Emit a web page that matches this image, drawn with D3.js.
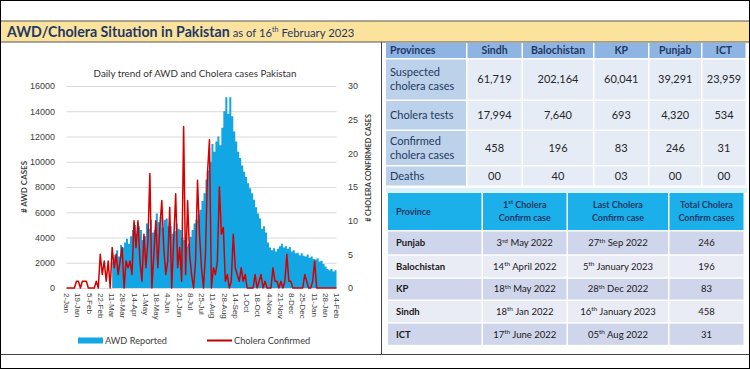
<!DOCTYPE html>
<html>
<head>
<meta charset="utf-8">
<script src="https://cdn.jsdelivr.net/npm/d3@7"></script>
<style>
  body { margin: 0; background: #fff; }
  svg { display: block; font-family: Lato, "Open Sans", sans-serif; }
</style>
</head>
<body>
<svg id="chart" width="750" height="369"></svg>
<script>
// ---- data ----
// daily series sampled every 3 days from 2-Jan-2022
const startDate = new Date(2022, 0, 2);
const stepDays = 3;

const awdReported = [
    0, 0, 0, 0, 0, 0, 0, 0, 0, 0, 0, 0, 0, 0, 0, 0, 0, 0, 0, 0, 0, 0, 0,
    2100, 2600, 3000, 2500, 3400, 3200, 3600, 3900, 3500, 4100, 4600, 5000, 4300, 4900, 4600, 3800,
    4100, 5100, 4700, 5400, 4400, 4600, 5900, 5200, 5650, 4800, 5400, 5500, 4900, 4900, 4300, 4500,
    5100, 4700, 4600, 4000, 3800, 3300, 3500, 4050, 4600, 5100, 5400, 5800, 6200, 6900, 7500, 8600,
    9300, 10000, 11400, 10800, 11600, 12000, 11300, 12700, 14000, 15100, 13800, 15100, 13600, 12400,
    11600, 10800, 10300, 9700, 9200, 8800, 8300, 7900, 7500, 7000, 6400, 5900, 5500, 4700, 4900, 4400,
    3600, 3200, 3000, 3150, 2900, 3100, 3300, 3500, 3200, 3300, 3100, 3250, 2900, 3000, 2750, 2800,
    2600, 2750, 2550, 2500, 2650, 2400, 2500, 2300, 2250, 2350, 2100, 2150, 1900, 1700, 1500, 1400,
    1500, 1300, 1400, 1250
];

const choleraConfirmed = [
    0, 0, 0, 0, 0, 1, 1, 0, 1, 1, 1, 0, 0, 0, 0, 1, 0, 5, 2, 4, 1, 4, 0, 6, 3, 5, 2, 4, 6, 0,
    4, 3, 4, 2, 10, 6, 10, 4, 1, 8, 3, 7, 17, 0, 5, 10, 3, 9, 13, 6, 2, 4, 12, 0, 7, 14, 3, 6, 1, 24,
    2, 13, 5, 2, 0, 4, 16, 8, 3, 0, 5, 17, 22, 0, 3, 2, 4, 15, 8, 9, 1, 2, 0, 1, 8, 3, 2, 1, 3, 1,
    2, 0, 0, 0, 0, 2, 0, 1, 2, 0, 1, 0, 0, 0, 3, 1, 1, 0, 1, 0, 1, 5, 1, 1, 0, 0, 0, 0, 0, 0,
    2, 1, 0, 0, 1, 4, 0, 0, 0, 0, 0, 0, 0, 0, 0, 0, 0
];

const tickLabels = ['2-Jan', '19-Jan', '5-Feb', '22-Feb', '11-Mar', '28-Mar', '14-Apr', '1-May',
    '18-May', '4-Jun', '21-Jun', '8-Jul', '25-Jul', '11-Aug', '28-Aug', '14-Sep', '1-Oct', '18-Oct',
    '4-Nov', '21-Nov', '8-Dec', '25-Dec', '11-Jan', '28-Jan', '14-Feb'];
const tickStepDays = 17;

// table 1
const provinces = ['Sindh', 'Balochistan', 'KP', 'Punjab', 'ICT'];
const suspectedCases = [61719, 202164, 60041, 39291, 23959];
const choleraTests = [17994, 7640, 693, 4320, 534];
const confirmedCases = [458, 196, 83, 246, 31];
const deaths = [0, 40, 3, 0, 0];

// table 2
const caseProvinces = ['Punjab', 'Balochistan', 'KP', 'Sindh', 'ICT'];
const firstCase = ['3rd May 2022', '14th April 2022', '18th May 2022', '18th Jan 2022', '17th June 2022'];
const lastCase = ['27th Sep 2022', '5th January 2023', '28th Dec 2022', '16th January 2023', '05th Aug 2022'];
const totalCases = [246, 196, 83, 458, 31];

// ---- frame ----
const svg = d3.select('#chart');
const navy = '#1f3864';

svg.append('rect').attr('x', 0.5).attr('y', 0.5).attr('width', 749).attr('height', 368)
    .attr('fill', '#fff').attr('stroke', '#000');
svg.append('rect').attr('x', 1).attr('y', 21).attr('width', 748).attr('height', 21).attr('fill', '#fbe39d');
svg.append('line').attr('x1', 1).attr('x2', 749).attr('y1', 21).attr('y2', 21).attr('stroke', '#555');
svg.append('line').attr('x1', 1).attr('x2', 749).attr('y1', 42).attr('y2', 42).attr('stroke', '#555');
svg.append('line').attr('x1', 381.5).attr('x2', 381.5).attr('y1', 42).attr('y2', 354).attr('stroke', '#444');
svg.append('line').attr('x1', 1).attr('x2', 749).attr('y1', 354.5).attr('y2', 354.5).attr('stroke', '#444');

const head = svg.append('text').attr('x', 7).attr('y', 37).attr('fill', navy);
head.append('tspan').attr('font-weight', 'bold').attr('font-size', 14.2).text('AWD/Cholera Situation in Pakistan');
head.append('tspan').attr('font-size', 11.3).text(' as of 16');
head.append('tspan').attr('font-size', 7).attr('dy', -5).text('th');
head.append('tspan').attr('font-size', 11.3).attr('dy', 5).text(' February 2023');

// ---- chart ----
const dates = awdReported.map((d, i) => d3.timeDay.offset(startDate, i * stepDays));
const series = dates.map((d, i) => ({ date: d, awd: awdReported[i], cholera: choleraConfirmed[i] }));
const tickDates = tickLabels.map((d, i) => d3.timeDay.offset(startDate, i * tickStepDays));

const x = d3.scaleTime().domain([startDate, tickDates[tickDates.length - 1]]).range([66.5, 336.5]);
const yL = d3.scaleLinear().domain([0, 16000]).range([288, 86]);
const yR = d3.scaleLinear().domain([0, 30]).range([288, 86]);

svg.append('text').attr('x', 195).attr('y', 77).attr('text-anchor', 'middle')
    .attr('font-size', 9.8).attr('fill', '#333').text('Daily trend of AWD and Cholera cases Pakistan');

// gridlines
svg.append('g').attr('transform', 'translate(66.5,0)')
    .call(d3.axisLeft(yL).tickValues(d3.range(0, 16001, 2000)).tickSize(-270).tickFormat(''))
    .call(g => g.select('.domain').remove())
    .call(g => g.selectAll('line').attr('stroke', '#d9d9d9'));

// AWD area
svg.append('path').datum(series)
    .attr('fill', '#12a6e4')
    .attr('d', d3.area().curve(d3.curveStepAfter).x(d => x(d.date)).y0(yL(0)).y1(d => yL(d.awd)));

// cholera line
svg.append('path').datum(series)
    .attr('fill', 'none').attr('stroke', '#d40000').attr('stroke-width', 1.5).attr('stroke-linejoin', 'round')
    .attr('d', d3.line().x(d => x(d.date)).y(d => yR(d.cholera)));

// axes
svg.append('g').attr('transform', 'translate(58,0)')
    .call(d3.axisLeft(yL).tickValues(d3.range(0, 16001, 2000)).tickSize(0).tickFormat(d3.format('d')))
    .call(g => g.select('.domain').remove())
    .call(g => g.selectAll('text').attr('font-size', 9).attr('fill', '#404040').attr('font-family', null));

svg.append('g').attr('transform', 'translate(345,0)')
    .call(d3.axisRight(yR).tickValues(d3.range(0, 31, 5)).tickSize(0))
    .call(g => g.select('.domain').remove())
    .call(g => g.selectAll('text').attr('font-size', 9).attr('fill', '#404040').attr('font-family', null));

svg.append('g').attr('transform', 'translate(0,292)')
    .call(d3.axisBottom(x).tickValues(tickDates).tickSize(0).tickFormat((d, i) => tickLabels[i]))
    .call(g => g.select('.domain').remove())
    .call(g => g.selectAll('text')
        .attr('font-size', 8).attr('fill', '#404040').attr('font-family', null)
        .attr('text-anchor', 'start').attr('transform', 'rotate(90)')
        .attr('x', 1).attr('y', 0).attr('dy', '0.35em'));

svg.append('text').attr('transform', 'translate(27,187) rotate(-90)').attr('text-anchor', 'middle')
    .attr('font-size', 8).attr('font-weight', 'bold').attr('fill', '#404040').text('# AWD CASES');
svg.append('text').attr('transform', 'translate(371,168) rotate(-90)').attr('text-anchor', 'middle')
    .attr('font-size', 7.2).attr('font-weight', 'bold').attr('fill', '#404040').text('# CHOLERA CONFIRMED CASES');

// legend
const legend = svg.append('g').attr('font-size', 9.2).attr('fill', '#404040');
legend.append('rect').attr('x', 78).attr('y', 337.5).attr('width', 25).attr('height', 6).attr('fill', '#12a6e4');
legend.append('text').attr('x', 105).attr('y', 343.5).text('AWD Reported');
legend.append('line').attr('x1', 207).attr('x2', 232).attr('y1', 340.5).attr('y2', 340.5)
    .attr('stroke', '#c00000').attr('stroke-width', 2);
legend.append('text').attr('x', 234).attr('y', 343.5).text('Cholera Confirmed');

// ---- table 1 ----
const fmt = d3.format(',');
const pad2 = d3.format('02d');
const t1Rows = [
    ['Provinces', ...provinces],
    [['Suspected', 'cholera cases'], ...suspectedCases.map(fmt)],
    [['Cholera tests'], ...choleraTests.map(fmt)],
    [['Confirmed', 'cholera cases'], ...confirmedCases.map(fmt)],
    [['Deaths'], ...deaths.map(pad2)]
];
const t1X = [386, 467.5, 523, 594.5, 649.5, 702.5, 747];
const t1Y = [43, 59.5, 101, 131, 166.5, 187];
const gap = 1.5;

const t1 = svg.append('g');
t1Rows.forEach((row, r) => {
    row.forEach((cell, c) => {
        const x0 = t1X[c], x1 = t1X[c + 1] - gap, y0 = t1Y[r], y1 = t1Y[r + 1] - gap;
        const fill = r === 0 ? '#8eb4e3' : (c === 0 ? '#bcd1ea' : '#e5ecf6');
        t1.append('rect').attr('x', x0).attr('y', y0).attr('width', x1 - x0).attr('height', y1 - y0).attr('fill', fill);
        const cy = (y0 + y1) / 2;
        if (r === 0) {
            t1.append('text').attr('x', c === 0 ? x0 + 4 : (x0 + x1) / 2).attr('y', cy).attr('dy', '0.35em')
                .attr('text-anchor', c === 0 ? 'start' : 'middle')
                .attr('font-size', 10.5).attr('font-weight', 'bold').attr('fill', navy).text(cell);
        } else if (c === 0) {
            const lines = cell;
            lines.forEach((ln, k) => {
                t1.append('text').attr('x', x0 + 4).attr('y', cy + (k - (lines.length - 1) / 2) * 14)
                    .attr('dy', '0.35em').attr('font-size', 11).attr('fill', '#243a5e').text(ln);
            });
        } else {
            t1.append('text').attr('x', (x0 + x1) / 2).attr('y', cy).attr('dy', '0.35em')
                .attr('text-anchor', 'middle').attr('font-size', 11).attr('fill', '#262626').text(cell);
        }
    });
});

// ---- table 2 ----
svg.append('rect').attr('x', 386).attr('y', 188).attr('width', 361).attr('height', 5).attr('fill', '#dcf2fb');

const t2X = [388, 483, 568, 669.5, 745];
const t2Y = [193, 231.5, 255.8, 278.8, 301, 323.7, 346.3];
const t2Head = [['Province'], [['1', 'st', ' Cholera'], 'Confirm case'], ['Last Cholera', 'Confirm case'], ['Total Cholera', 'Confirm cases']];
const t2 = svg.append('g');

t2Head.forEach((h, c) => {
    const x0 = t2X[c], x1 = t2X[c + 1] - gap, y0 = t2Y[0], y1 = t2Y[1] - gap;
    t2.append('rect').attr('x', x0).attr('y', y0).attr('width', x1 - x0).attr('height', y1 - y0).attr('fill', '#1cb0ea');
    const cy = (y0 + y1) / 2;
    h.forEach((ln, k) => {
        const t = t2.append('text').attr('x', c === 0 ? x0 + 8 : (x0 + x1) / 2)
            .attr('y', cy + (k - (h.length - 1) / 2) * 13.5).attr('dy', '0.35em')
            .attr('text-anchor', c === 0 ? 'start' : 'middle')
            .attr('font-size', 9).attr('font-weight', 'bold').attr('fill', navy);
        if (Array.isArray(ln)) {
            t.append('tspan').text(ln[0]);
            t.append('tspan').attr('font-size', 6).attr('dy', -3.5).text(ln[1]);
            t.append('tspan').attr('dy', 3.5).text(ln[2]);
        } else t.text(ln);
    });
});

const dateText = (sel, s) => {
    const m = s.match(/^(\d+)(st|nd|rd|th)(.*)$/);
    sel.append('tspan').text(m[1]);
    sel.append('tspan').attr('font-size', 6.5).attr('dy', -3.5).text(m[2]);
    sel.append('tspan').attr('dy', 3.5).text(m[3]);
};

caseProvinces.forEach((p, r) => {
    const cells = [p, firstCase[r], lastCase[r], String(totalCases[r])];
    const y0 = t2Y[r + 1], y1 = t2Y[r + 2] - gap, cy = (y0 + y1) / 2;
    cells.forEach((cell, c) => {
        const x0 = t2X[c], x1 = t2X[c + 1] - gap;
        t2.append('rect').attr('x', x0).attr('y', y0).attr('width', x1 - x0).attr('height', y1 - y0)
            .attr('fill', r % 2 === 0 ? '#cfd5ea' : '#e9ebf5');
        const t = t2.append('text').attr('x', c === 0 ? x0 + 8 : (x0 + x1) / 2).attr('y', cy).attr('dy', '0.35em')
            .attr('text-anchor', c === 0 ? 'start' : 'middle').attr('font-size', 9.5).attr('fill', '#1a1a1a');
        if (c === 0) t.attr('font-weight', 'bold').text(cell);
        else if (c === 3) t.text(cell);
        else dateText(t, cell);
    });
});
</script>
</body>
</html>
